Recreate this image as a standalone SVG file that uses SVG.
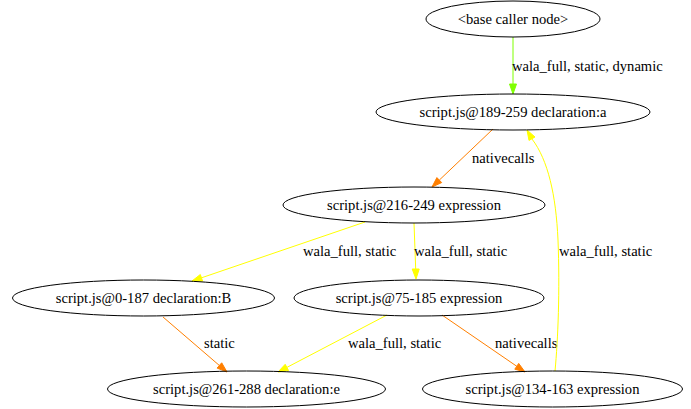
<svg xmlns="http://www.w3.org/2000/svg" width="691" height="409" viewBox="0 0 691 409">
<style>
text{font-family:"Liberation Serif","Times New Roman",serif;font-size:14.6px;fill:#000}
.n ellipse{fill:none;stroke:#000;stroke-width:1}
.n text{text-anchor:middle}
.e path{fill:none;stroke-width:1}
.g{stroke:#7fff00}.gf{fill:#7fff00;stroke:#7fff00}
.o{stroke:#ff7f00}.of{fill:#ff7f00;stroke:#ff7f00}
.y{stroke:#ffff00}.yf{fill:#ffff00;stroke:#ffff00}
</style>
<rect width="691" height="409" fill="#fff"/>
<g id="edges" class="e">
<path class="g" d="M513,37 L513,84"/>
<polygon class="gf" points="509.5,84 513,94 516.5,84"/>
<text x="512" y="71">wala_full, static, dynamic</text>

<path class="o" d="M493,129 L439.3,180.1"/>
<polygon class="of" points="441.7,182.6 432,187 436.9,177.6"/>
<text x="472" y="163">nativecalls</text>

<path class="y" d="M365,222 L201.5,277.8"/>
<polygon class="yf" points="202.6,281.1 192,281 200.3,274.5"/>
<text x="303" y="256">wala_full, static</text>

<path class="y" d="M414,223 L415.7,269"/>
<polygon class="yf" points="412.2,269 416,279 419.2,269"/>
<text x="414" y="256">wala_full, static</text>

<path class="o" d="M163,317 L219.4,365.5"/>
<polygon class="of" points="217.1,368.1 227,372 221.7,362.8"/>
<text x="204" y="348">static</text>

<path class="y" d="M387,315 L286.9,367.4"/>
<polygon class="yf" points="288.5,370.5 278,372 285.2,364.3"/>
<text x="348" y="348">wala_full, static</text>

<path class="o" d="M442,315 L516.8,366.3"/>
<polygon class="of" points="514.8,369.2 525,372 518.7,363.4"/>
<text x="495" y="348">nativecalls</text>

<path class="y" d="M555,371 C558,340 560,290 558,240 C556,195 548,160 532,139"/>
<polygon class="yf" points="535,137 527,130 529,140.4"/>
<text x="559" y="256">wala_full, static</text>
</g>
<g id="n_base" class="n"><ellipse cx="513" cy="19" rx="87" ry="18"/><text x="513" y="23.5">&lt;base caller node&gt;</text></g>
<g id="n_a" class="n"><ellipse cx="513" cy="112" rx="137" ry="18"/><text x="513" y="116.5">script.js@189-259 declaration:a</text></g>
<g id="n_216" class="n"><ellipse cx="414" cy="205" rx="131" ry="18"/><text x="414" y="209.5">script.js@216-249 expression</text></g>
<g id="n_B" class="n"><ellipse cx="143.5" cy="298" rx="131" ry="18"/><text x="143.5" y="302.5">script.js@0-187 declaration:B</text></g>
<g id="n_75" class="n"><ellipse cx="419" cy="298" rx="125" ry="18"/><text x="419" y="302.5">script.js@75-185 expression</text></g>
<g id="n_e" class="n"><ellipse cx="246.5" cy="389" rx="139" ry="18"/><text x="246.5" y="393.5">script.js@261-288 declaration:e</text></g>
<g id="n_134" class="n"><ellipse cx="552.5" cy="389" rx="130" ry="18"/><text x="552.5" y="393.5">script.js@134-163 expression</text></g>
</svg>
